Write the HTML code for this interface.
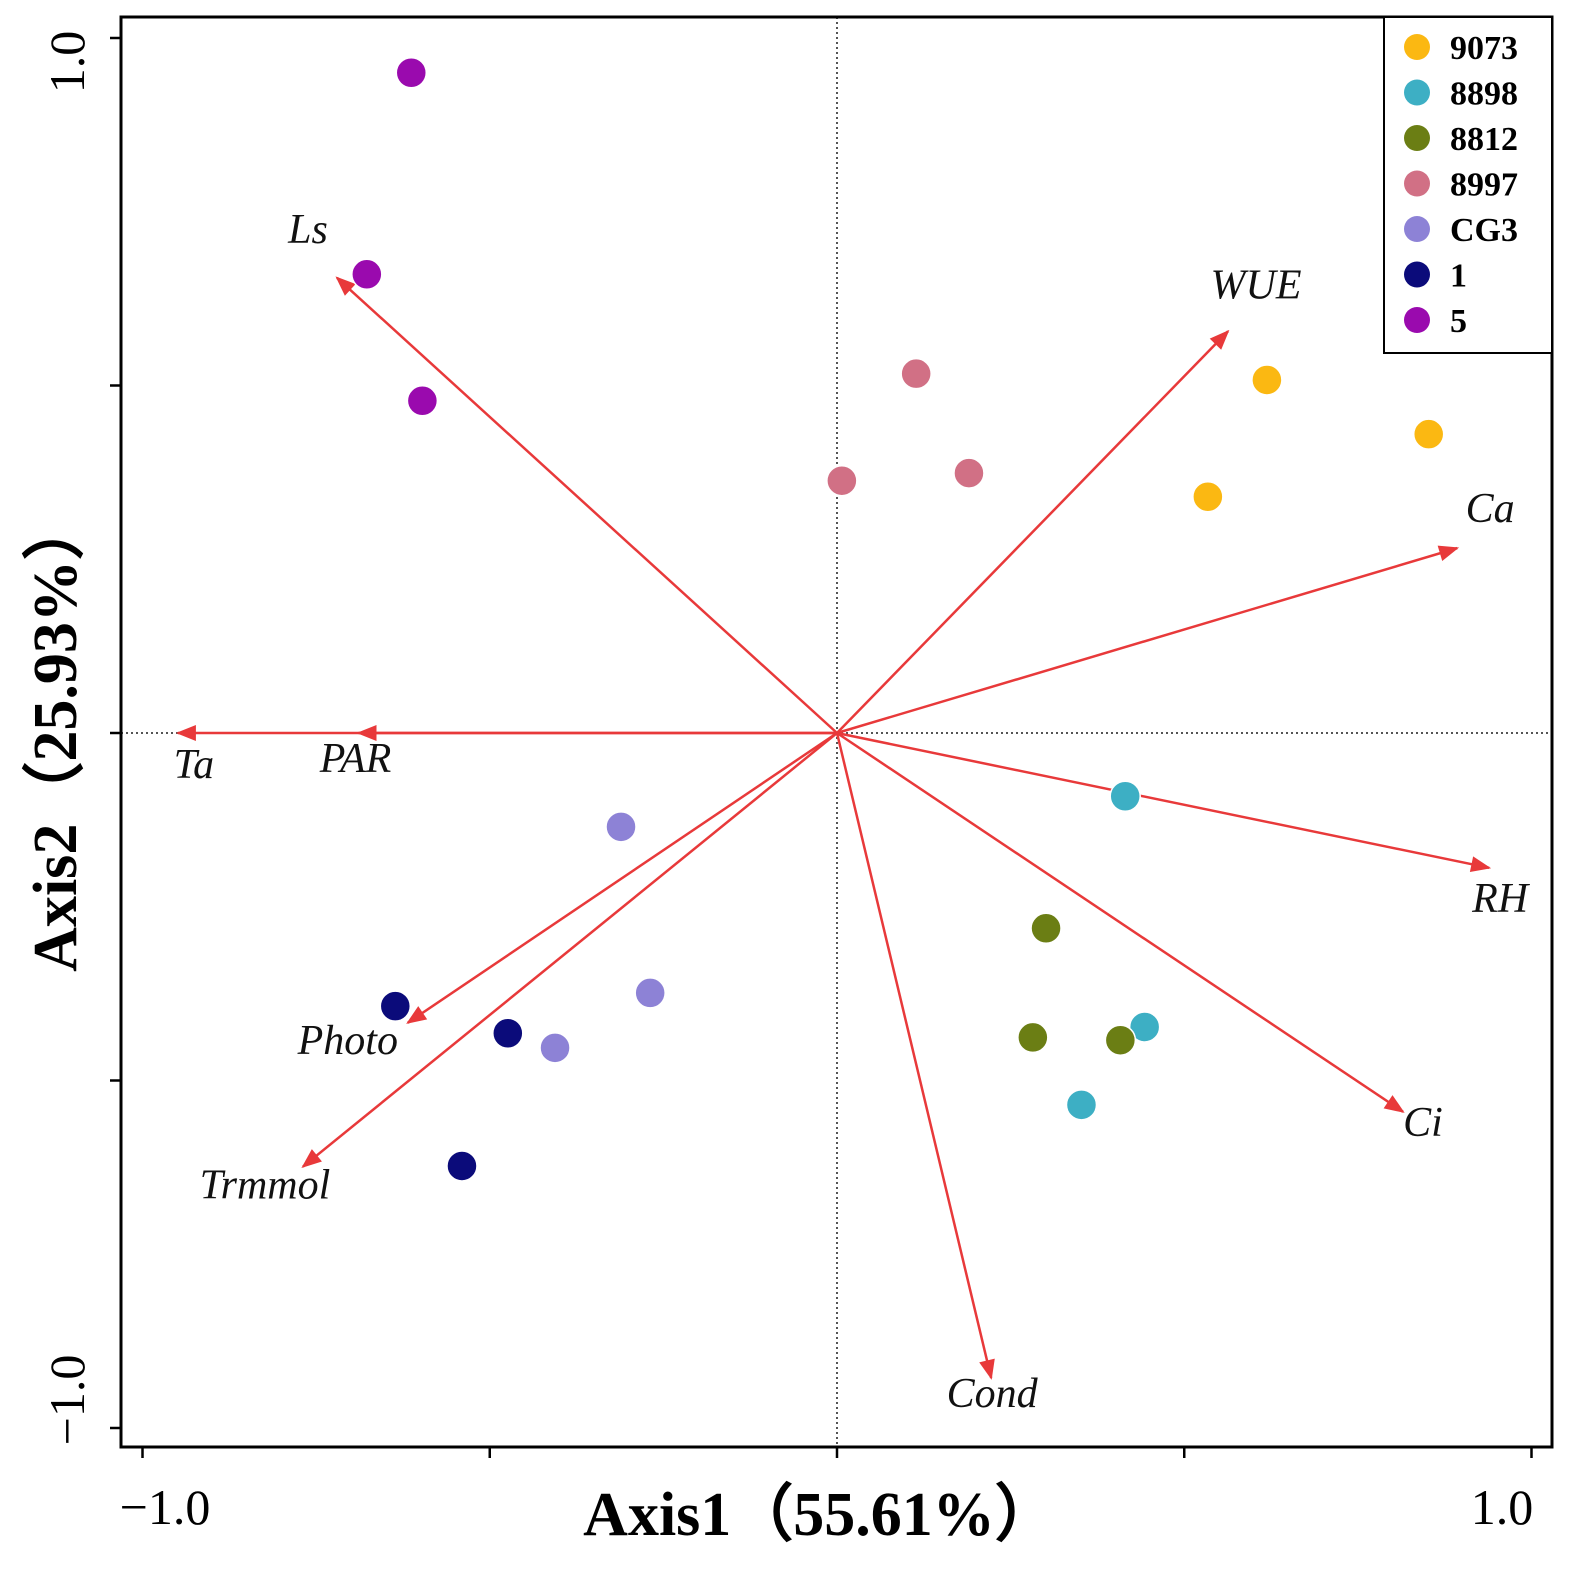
<!DOCTYPE html>
<html><head><meta charset="utf-8"><style>
html,body{margin:0;padding:0;background:#fff;}
svg{display:block;font-family:"Liberation Serif",serif;}
</style></head><body>
<svg id="chart" width="1589" height="1573" viewBox="0 0 1589 1573" xmlns="http://www.w3.org/2000/svg">
<defs><marker id="ah" viewBox="0 0 10 10" refX="9" refY="5" markerWidth="10" markerHeight="8" orient="auto"><path d="M0,1 L10,5 L0,9 z" fill="#E8393A"/></marker></defs>
<g id="grid"></g><g id="arrows"></g><g id="pts"></g><g id="axes"></g><g id="legend"></g>
</svg>
<script>
const groups=["9073","8898","8812","8997","CG3","1","5"];
const groupColors=["#FBB812","#3DAFC4","#6B7E14","#D17085","#8D82D6","#0B0B7A","#9A0AAE"];
const ptX=[[0.619,0.852,0.534],[0.415,0.443,0.352],[0.301,0.282,0.408],[0.114,0.007,0.190],[-0.311,-0.269,-0.406],[-0.636,-0.474,-0.540],[-0.613,-0.677,-0.597]];
const ptY=[[0.508,0.430,0.340],[-0.091,-0.423,-0.535],[-0.281,-0.438,-0.442],[0.517,0.363,0.374],[-0.135,-0.374,-0.453],[-0.393,-0.432,-0.623],[0.950,0.660,0.478]];
const vars=["Ls","WUE","Ca","RH","Ci","Cond","Trmmol","Photo","PAR","Ta"];
const varX=[-0.720,0.563,0.893,0.939,0.815,0.222,-0.769,-0.618,-0.689,-0.949];
const varY=[0.655,0.578,0.266,-0.194,-0.545,-0.928,-0.624,-0.417,0,0];
const labelOff=[[-29,-35],[28,-33],[33,-26],[11,44],[20,24],[1,29],[-38,32],[-60,31],[-3,39],[16,45]];
const ticks=[-1,-0.5,0,0.5,1];
const NS="http://www.w3.org/2000/svg";
const sx=v=>837+v*694.5, sy=v=>733-v*695;
function mk(tag,attrs,parent,text){const e=document.createElementNS(NS,tag);for(const k in attrs)e.setAttribute(k,attrs[k]);if(text!==undefined)e.textContent=text;document.getElementById(parent).appendChild(e);return e;}
let e=mk("line",{x1:121,x2:1552,y1:sy(0),y2:sy(0),stroke:"#555","stroke-width":2,"stroke-dasharray":"2,3"},"grid");


e=mk("line",{x1:sx(0),x2:sx(0),y1:17,y2:1447,stroke:"#555","stroke-width":2,"stroke-dasharray":"2,3"},"grid");


vars.forEach((v,i)=>{
 let a=mk("line",{x1:sx(0),y1:sy(0),x2:sx(varX[i]),y2:sy(varY[i]),stroke:"#E8393A","stroke-width":2.5,"marker-end":"url(#ah)"},"arrows");
 
 
 let t=mk("text",{x:sx(varX[i])+labelOff[i][0],y:sy(varY[i])+labelOff[i][1],"font-size":42,"font-style":"italic","text-anchor":"middle",fill:"#111"},"arrows",v);
 
 
});
groups.forEach((g,gi)=>{ptX[gi].forEach((x,j)=>{
 let c=mk("circle",{cx:sx(x),cy:sy(ptY[gi][j]),r:15,fill:groupColors[gi],stroke:"#fff","stroke-width":1.5},"pts");
 
 
});});
e=mk("rect",{x:121,y:17,width:1431,height:1430,fill:"none",stroke:"#000","stroke-width":3},"axes");


ticks.forEach(t=>{
 let l=mk("line",{x1:sx(t),x2:sx(t),y1:1447,y2:1458,stroke:"#000","stroke-width":2.5},"axes");
 
 
 l=mk("line",{x1:110,x2:121,y1:sy(t),y2:sy(t),stroke:"#000","stroke-width":2.5},"axes");
 
 
});
[[-1,"−1.0",165],[1,"1.0",1502]].forEach(([v,s,x])=>{
 let t=mk("text",{x:x,y:1524,"font-size":50,"text-anchor":"middle"},"axes",s);
 
 
});
[[1,"1.0",62],[-1,"−1.0",1400]].forEach(([v,s,y])=>{
 let t=mk("text",{x:0,y:0,"font-size":50,"text-anchor":"middle",transform:`translate(84,${y}) rotate(-90)`},"axes",s);
 
 
});
e=mk("text",{x:820,y:1535,"font-size":62,"font-weight":"bold","text-anchor":"middle"},"axes","Axis1（55.61%）");


e=mk("text",{x:0,y:0,"font-size":62,"font-weight":"bold","text-anchor":"middle",transform:"translate(76,735) rotate(-90)"},"axes","Axis2（25.93%）");


e=mk("rect",{x:1384,y:17,width:168,height:336,fill:"#fff",stroke:"#000","stroke-width":2},"legend");


groups.forEach((g,i)=>{
 const y=47+i*45.5;
 let c=mk("circle",{cx:1417,cy:y,r:13,fill:groupColors[i]},"legend");
 
 
 let t=mk("text",{x:1450,y:y+12,"font-size":34,"font-weight":"bold"},"legend",g);
 
 
});
</script>
</body></html>
